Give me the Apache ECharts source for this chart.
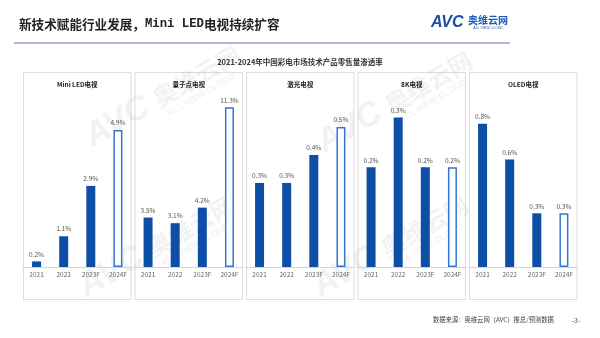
<!DOCTYPE html>
<html>
<head>
<meta charset="utf-8">
<script src="https://cdn.jsdelivr.net/npm/echarts@6/dist/echarts.min.js"></script>
<style>
  html, body { margin: 0; padding: 0; background: #ffffff; }
  #chart { width: 600px; height: 338px; }
</style>
</head>
<body>
<div id="chart"></div>
<script>
// Categories and per-technology retail penetration (%)
const years = ['2021', '2022', '2023F', '2024F'];
const panelNames = ['Mini LED电视', '量子点电视', '激光电视', '8K电视', 'OLED电视'];
const miniLed = [0.2, 1.1, 2.9, 4.9];
const quantumDot = [3.5, 3.1, 4.2, 11.3];
const laser = [0.3, 0.3, 0.4, 0.5];
const tv8k = [0.2, 0.3, 0.2, 0.2];
const oled = [0.8, 0.6, 0.3, 0.3];

const panelValues = [miniLed, quantumDot, laser, tv8k, oled];
// each small multiple has its own value scale
const panelMax = [6.15, 12.17, 0.614, 0.345, 0.961];

const FONT = '"Noto Sans CJK SC", "Noto Sans", sans-serif';
const BAR_FILL = '#0d4ea6';
const FORECAST_EDGE = '#3577cf';

const panelLeft0 = 23, panelStep = 111.5, panelW = 108.5;
const panelTop = 72, panelH = 227;
const plotTop = 95, plotBottomY = 267;

const grids = [], xAxes = [], yAxes = [], series = [];
panelValues.forEach((vals, i) => {
  const left = panelLeft0 + i * panelStep;
  grids.push({ left: left, width: panelW, top: plotTop, bottom: 338 - plotBottomY });
  xAxes.push({
    type: 'category', gridIndex: i, data: years,
    axisLine: { lineStyle: { color: '#d4d4d4', width: 1 } },
    axisTick: { show: false },
    axisLabel: { color: '#666', fontSize: 6.5, fontFamily: FONT, margin: 4.5, interval: 0 }
  });
  yAxes.push({
    type: 'value', gridIndex: i, min: 0, max: panelMax[i], show: false,
    splitLine: { show: false }
  });
  series.push({
    type: 'bar', xAxisIndex: i, yAxisIndex: i, barWidth: 9,
    data: vals.map((v, j) => {
      const forecast = years[j] === '2024F';
      return {
        value: v,
        itemStyle: forecast
          ? { color: '#ffffff', borderColor: FORECAST_EDGE, borderWidth: 1.5 }
          : { color: BAR_FILL }
      };
    }),
    label: {
      show: true, position: 'top', distance: 4,
      color: '#555', fontSize: 6.5, fontFamily: FONT,
      formatter: p => p.value.toFixed(1) + '%'
    },
    silent: true, animation: false
  });
});

const graphics = [];
// page heading
graphics.push({
  type: 'text', z: 10,
  style: {
    x: 19, y: 24, textVerticalAlign: 'middle',
    text: '{c|新技术赋能行业发展，}{m|Mini LED}{c|电视持续扩容}',
    rich: {
      c: { fontFamily: FONT, fontSize: 12.6, fontWeight: 'bold', fill: '#222' },
      m: { fontFamily: '"Liberation Mono", "DejaVu Sans Mono", monospace', fontSize: 12.3, fontWeight: 'bold', fill: '#222' }
    }
  }
});
// brand mark
graphics.push({
  type: 'text', z: 10,
  style: { x: 431, y: 23, textVerticalAlign: 'middle', text: 'AVC',
    font: 'italic bold 16px "Liberation Sans", Arial, sans-serif', fill: '#1a4fa3' }
});
graphics.push({
  type: 'text', z: 10,
  style: { x: 468, y: 20, textVerticalAlign: 'middle', text: '奥维云网',
    font: 'bold 10px ' + FONT, fill: '#1a5cb8' }
});
graphics.push({
  type: 'text', z: 10,
  style: { x: 488, y: 28, textAlign: 'center', textVerticalAlign: 'middle', text: 'ALL VIEW CLOUD',
    font: '3.5px "Liberation Sans", sans-serif', fill: '#1a5cb8' }
});
graphics.push({
  type: 'line', z: 10,
  shape: { x1: 14, y1: 43, x2: 510, y2: 43 },
  style: { stroke: '#8ea3c9', lineWidth: 1.5 }
});
// chart caption
graphics.push({
  type: 'text', z: 10,
  style: { x: 300, y: 62, textAlign: 'center', textVerticalAlign: 'middle',
    text: '2021-2024年中国彩电市场技术产品零售量渗透率',
    font: 'bold 7.5px ' + FONT, fill: '#333' }
});
// panel frames and titles
panelNames.forEach((name, i) => {
  const left = panelLeft0 + i * panelStep;
  graphics.push({
    type: 'rect', z: 0,
    shape: { x: left + 0.5, y: panelTop + 0.5, width: panelW - 1, height: panelH },
    style: { fill: 'none', stroke: '#dddddd', lineWidth: 1 }
  });
  graphics.push({
    type: 'text', z: 10,
    style: { x: left + panelW / 2, y: 85, textAlign: 'center', textVerticalAlign: 'middle',
      text: name, font: 'bold 6.5px ' + FONT, fill: '#222' }
  });
});
// footer
graphics.push({
  type: 'text', z: 10,
  style: { x: 433, y: 320, textVerticalAlign: 'middle',
    text: '数据来源：奥维云网（AVC）推总/预测数据', font: '6.3px ' + FONT, fill: '#444' }
});
graphics.push({
  type: 'text', z: 10,
  style: { x: 576, y: 320, textAlign: 'center', textVerticalAlign: 'middle',
    text: '-3-', font: '7px ' + FONT, fill: '#555' }
});
// translucent brand watermarks
const marks = [[96, 154], [328, 160], [90, 304], [324, 304]];
const markFill = 'rgba(175,175,175,0.17)';
marks.forEach(([mx, my]) => {
  graphics.push({
    type: 'group', x: mx, y: my, rotation: Math.PI / 6, z: 100,
    children: [
      { type: 'text', style: { x: 0, y: 0, textVerticalAlign: 'bottom', text: 'AVC',
          font: 'italic bold 34px "Liberation Sans", Arial, sans-serif', fill: markFill } },
      { type: 'text', style: { x: 78, y: -5, textVerticalAlign: 'bottom', text: '奥维云网',
          font: 'bold 24px ' + FONT, fill: markFill } },
      { type: 'text', style: { x: 82, y: 6, textVerticalAlign: 'bottom', text: 'ALL VIEW CLOUD',
          font: 'bold 9px "Liberation Sans", sans-serif', fill: markFill } }
    ]
  });
});

const chart = echarts.init(document.getElementById('chart'), null, { renderer: 'canvas' });
chart.setOption({
  animation: false,
  backgroundColor: '#ffffff',
  grid: grids,
  xAxis: xAxes,
  yAxis: yAxes,
  series: series,
  graphic: graphics
});
</script>
</body>
</html>
